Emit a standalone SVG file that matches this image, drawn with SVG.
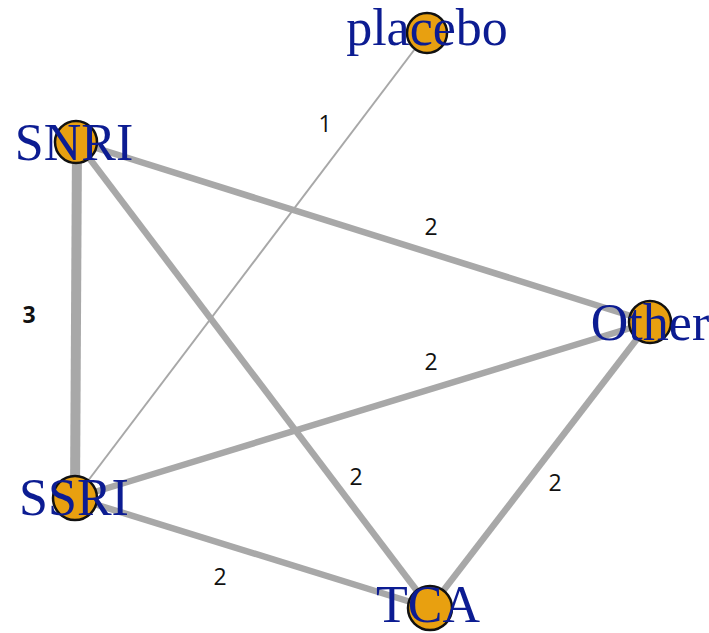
<svg xmlns="http://www.w3.org/2000/svg" width="709" height="633" viewBox="0 0 709 633">
  <style>
    .edge { stroke: #a8a8a8; stroke-linecap: butt; fill: none; }
    .w1 { stroke-width: 2; }
    .w2 { stroke-width: 6.5; }
    .w3 { stroke-width: 10; }
    .vertex { fill: #e8a010; stroke: #111111; stroke-width: 2.5; }
    .vlabel { font-family: "Liberation Serif", "Times New Roman", serif; font-size: 52px; fill: #0c1c92; text-anchor: middle; }
    .elabel { font-family: "Open Sans", "Liberation Sans", Arial, sans-serif; font-size: 23px; fill: #111111; text-anchor: middle; }
  </style>
  <rect width="709" height="633" fill="#ffffff"/>

  <!-- connectors -->
  <g id="edges">
    <line class="edge w1" x1="427" y1="33" x2="75" y2="498"/>
    <line class="edge w2" x1="77" y1="142" x2="650" y2="322"/>
    <line class="edge w3" x1="77" y1="142" x2="75" y2="498"/>
    <line class="edge w2" x1="77" y1="142" x2="430" y2="608"/>
    <line class="edge w2" x1="75" y1="498" x2="650" y2="322"/>
    <line class="edge w2" x1="75" y1="498" x2="430" y2="608"/>
    <line class="edge w2" x1="650" y1="322" x2="430" y2="608"/>
    <text class="elabel" x="325" y="132">1</text>
    <text class="elabel" x="431" y="235">2</text>
    <text class="elabel" x="29" y="323" font-weight="bold">3</text>
    <text class="elabel" x="356" y="485">2</text>
    <text class="elabel" x="431" y="370">2</text>
    <text class="elabel" x="220" y="585">2</text>
    <text class="elabel" x="555" y="491">2</text>
  </g>

  <!-- vertices -->
  <g id="node-placebo">
    <circle class="vertex" cx="427" cy="33" r="20"/>
    <text class="vlabel" x="427" y="45">placebo</text>
  </g>
  <g id="node-SNRI">
    <circle class="vertex" cx="76" cy="142" r="21"/>
    <text class="vlabel" x="74" y="160">SNRI</text>
  </g>
  <g id="node-Other">
    <circle class="vertex" cx="650" cy="322" r="21"/>
    <text class="vlabel" x="650" y="340">Other</text>
  </g>
  <g id="node-SSRI">
    <circle class="vertex" cx="75" cy="498" r="22"/>
    <text class="vlabel" x="74" y="515">SSRI</text>
  </g>
  <g id="node-TCA">
    <circle class="vertex" cx="430" cy="608" r="22"/>
    <text class="vlabel" x="428" y="622">TCA</text>
  </g>
</svg>
